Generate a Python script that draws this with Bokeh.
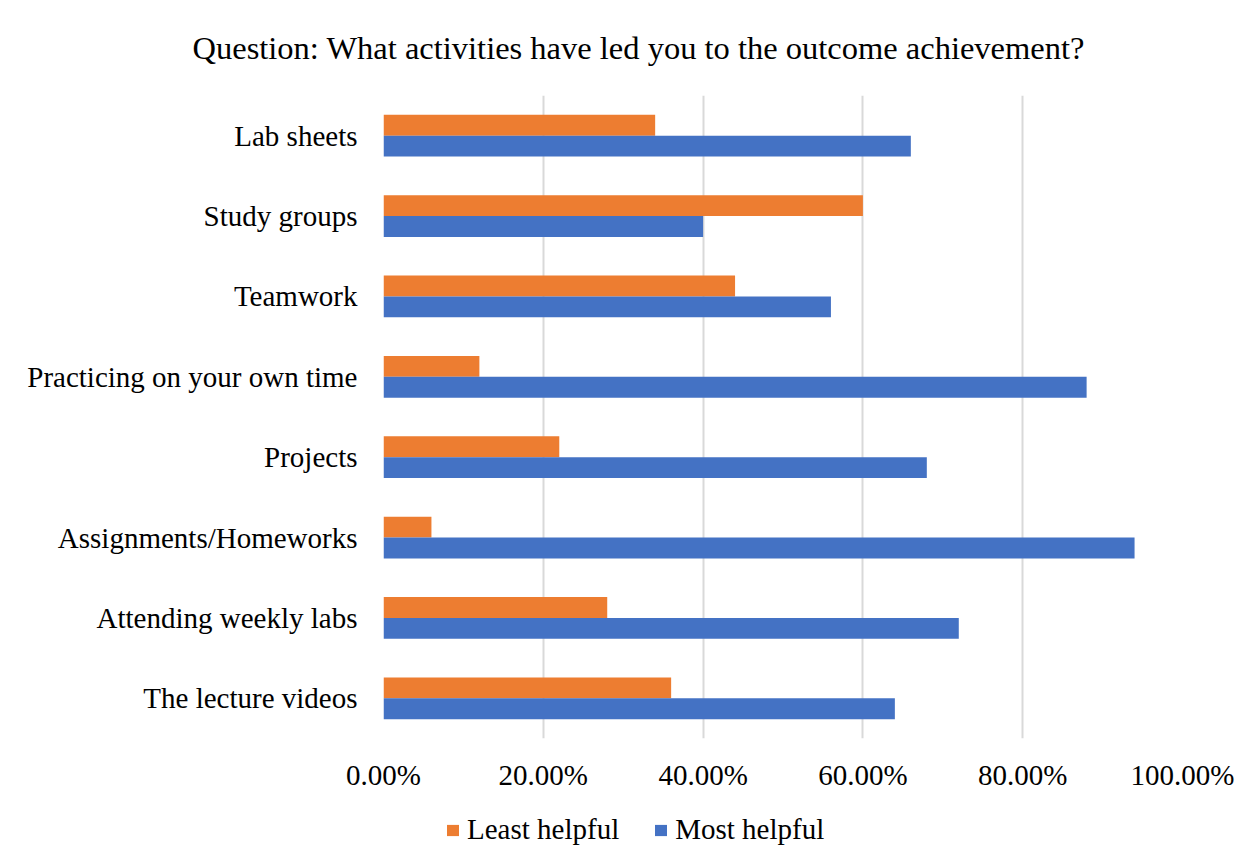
from bokeh.plotting import figure
from bokeh.layouts import column
from bokeh.models import ColumnDataSource, FactorRange, Range1d, FixedTicker, NumeralTickFormatter, Legend, LegendItem
from bokeh.transform import dodge
from bokeh.embed import file_html
from bokeh.resources import INLINE

categories = ["Lab sheets", "Study groups", "Teamwork", "Practicing on your own time",
              "Projects", "Assignments/Homeworks", "Attending weekly labs", "The lecture videos"]
least_helpful = [0.34, 0.60, 0.44, 0.12, 0.22, 0.06, 0.28, 0.36]
most_helpful = [0.66, 0.40, 0.56, 0.88, 0.68, 0.94, 0.72, 0.64]
series_names = ["Least helpful", "Most helpful"]
x_ticks = [0.0, 0.2, 0.4, 0.6, 0.8, 1.0]

FONT = "Liberation Serif"
ORANGE = "#ED7D31"
BLUE = "#4472C4"

source = ColumnDataSource(dict(cat=categories, least=least_helpful, most=most_helpful))

p = figure(width=1250, height=800, output_backend="svg", toolbar_location=None,
           y_range=FactorRange(*categories[::-1]), x_range=Range1d(0, 1),
           min_border_left=383, min_border_right=68, min_border_top=95, min_border_bottom=62)

r1 = p.hbar(y=dodge("cat", 0.13, range=p.y_range), right="least", left=0, height=0.26,
            source=source, fill_color=ORANGE, line_color=None)
r2 = p.hbar(y=dodge("cat", -0.13, range=p.y_range), right="most", left=0, height=0.26,
            source=source, fill_color=BLUE, line_color=None)

p.title.text = "Question: What activities have led you to the outcome achievement?"
p.title.text_font = FONT
p.title.text_font_size = "32.5px"
p.title.text_font_style = "normal"
p.title.text_color = "black"
p.title.align = "left"
p.title.vertical_align = "top"
p.title.offset = -191
p.title.standoff = 55

p.outline_line_color = None
p.background_fill_color = "white"
p.border_fill_color = "white"

p.xaxis.ticker = FixedTicker(ticks=x_ticks)
p.xaxis.formatter = NumeralTickFormatter(format="0.00%")
p.xaxis.axis_line_color = None
p.xaxis.major_tick_line_color = None
p.xaxis.minor_tick_line_color = None
p.xaxis.major_label_text_font = FONT
p.xaxis.major_label_text_font_size = "29px"
p.xaxis.major_label_text_color = "black"
p.xaxis.major_label_standoff = 14

p.yaxis.axis_line_color = None
p.yaxis.major_tick_line_color = None
p.yaxis.minor_tick_line_color = None
p.yaxis.major_label_text_font = FONT
p.yaxis.major_label_text_font_size = "29px"
p.yaxis.major_label_text_color = "black"
p.yaxis.major_label_standoff = 20

p.ygrid.grid_line_color = None
p.xgrid.ticker = FixedTicker(ticks=x_ticks)
p.xgrid.grid_line_color = "#D9D9D9"
p.xgrid.grid_line_width = 2

# Legend strip below the chart (its frame is aligned with the main frame by the column)
lg = figure(width=1250, height=65, output_backend="svg", toolbar_location=None,
            x_axis_type=None, y_axis_type=None, x_range=Range1d(2, 3),
            y_range=FactorRange(*categories[::-1]),
            min_border_left=0, min_border_right=0, min_border_top=0, min_border_bottom=0)
lg.outline_line_color = None
lg.background_fill_color = "white"
lg.border_fill_color = "white"
lg.xgrid.grid_line_color = None
lg.ygrid.grid_line_color = None
# same series, with zero-height bars outside the strip's range: only legend swatches show
l1 = lg.hbar(y="cat", right="least", left=0, height=0, source=source,
             fill_color=ORANGE, line_color=None)
l2 = lg.hbar(y="cat", right="most", left=0, height=0, source=source,
             fill_color=BLUE, line_color=None)

legend = Legend(items=[LegendItem(label=series_names[0], renderers=[l1], index=0),
                       LegendItem(label=series_names[1], renderers=[l2], index=0)],
                orientation="horizontal", location=(62, 19),
                label_text_font=FONT, label_text_font_size="29px", label_text_color="black",
                glyph_width=15, glyph_height=14, label_standoff=7, spacing=34,
                padding=0, margin=0, border_line_color=None, background_fill_alpha=0)
lg.add_layout(legend, "center")

layout = column(p, lg, spacing=0)
open("out.html", "w").write(file_html(layout, INLINE))
